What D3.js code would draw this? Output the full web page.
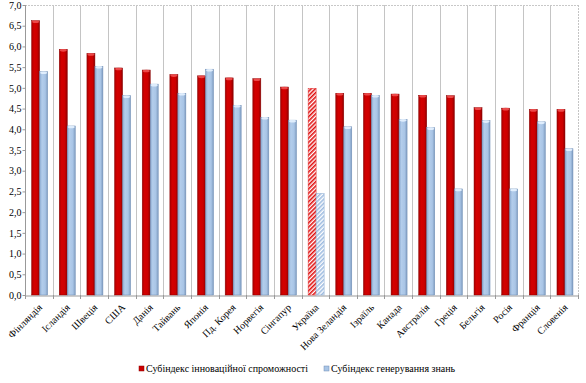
<!DOCTYPE html>
<html><head><meta charset="utf-8">
<script src="https://cdn.jsdelivr.net/npm/d3@7"></script>
<style>body{margin:0;background:#fff}svg{display:block}svg text{font-family:"Liberation Serif","Times New Roman",serif !important;fill:#000}</style>
</head><body>
<script>
const categories = ["Фінляндія","Ісландія","Швеція","США","Данія","Тайвань","Японія","Пд. Корея","Норвегія","Сінгапур","Україна","Нова Зеландія","Ізраїль","Канада","Австралія","Греція","Бельгія","Росія","Франція","Словенія"];
const innovationCapacity = [6.62,5.93,5.83,5.48,5.43,5.32,5.29,5.24,5.22,5.02,4.99,4.87,4.87,4.85,4.82,4.81,4.52,4.51,4.48,4.48];
const knowledgeGeneration = [5.39,4.08,5.52,4.81,5.09,4.87,5.45,4.58,4.29,4.22,2.45,4.06,4.82,4.24,4.04,2.56,4.21,2.56,4.18,3.53];
const seriesNames = ["Субіндекс інноваційної спроможності","Субіндекс генерування знань"];
const yTicks = [0,0.5,1,1.5,2,2.5,3,3.5,4,4.5,5,5.5,6,6.5,7];
const highlight = "Україна";

const W=586,H=383;
const FONT="'Liberation Serif','Times New Roman',serif";
const svg=d3.select("body").append("svg").attr("width",W).attr("height",H);
const defs=svg.append("defs");
function hgrad(id,stops){const g=defs.append("linearGradient").attr("id",id).attr("x1","0").attr("x2","1").attr("y1","0").attr("y2","0");stops.forEach(s=>g.append("stop").attr("offset",s[0]).attr("stop-color",s[1]));}
hgrad("gRed",[[0,"#a80000"],[0.3,"#d40000"],[0.7,"#cc0000"],[1,"#8e0000"]]);
hgrad("gBlue",[[0,"#8aa9cf"],[0.3,"#b3cdeb"],[0.7,"#a9c5e6"],[1,"#7f9cc0"]]);
const pr=defs.append("pattern").attr("id","pRed").attr("patternUnits","userSpaceOnUse").attr("width",3).attr("height",3).attr("patternTransform","rotate(45)");
pr.append("rect").attr("width",3).attr("height",3).attr("fill","#fff");
pr.append("rect").attr("width",1.6).attr("height",3).attr("fill","#e01010");
const pb=defs.append("pattern").attr("id","pBlue").attr("patternUnits","userSpaceOnUse").attr("width",3).attr("height",3).attr("patternTransform","rotate(45)");
pb.append("rect").attr("width",3).attr("height",3).attr("fill","#fff");
pb.append("rect").attr("width",1.6).attr("height",3).attr("fill","#9dbbe0");

const x0=25,x1=578,yTop=5,yBot=295;
const x=d3.scaleBand().domain(categories).range([x0,x1]).paddingInner(0).paddingOuter(0);
const y=d3.scaleLinear().domain([0,7]).range([yBot,yTop]);

const bounds=categories.map(c=>x(c)).concat([x1]);
svg.append("g").selectAll("line").data(bounds.slice(1)).join("line")
 .attr("x1",d=>Math.round(d)+0.5).attr("x2",d=>Math.round(d)+0.5).attr("y1",yTop).attr("y2",yBot)
 .attr("stroke","#c4c4c4").attr("stroke-width",1).attr("stroke-dasharray",(d,i)=>i===bounds.length-2?"2,1":null);
svg.append("line").attr("x1",x0).attr("x2",x1).attr("y1",yTop+0.5).attr("y2",yTop+0.5).attr("stroke","#c8c8c8").attr("stroke-dasharray","2,1");

const yAxis=d3.axisLeft(y).tickValues(yTicks).tickSize(3).tickFormat(d=>d3.format(".1f")(d).replace(".",","));
const ga=svg.append("g").attr("transform",`translate(${x0+0.5},0)`).call(yAxis).attr("font-family",FONT);
ga.select(".domain").attr("stroke","#999").attr("d",`M0,${yTop}V${yBot}`);
ga.selectAll(".tick line").attr("stroke","#999");
ga.selectAll(".tick text").style("font-family",FONT).attr("font-size",10).attr("x",-4).attr("fill","#000");

const xAxis=d3.axisBottom(x).tickSize(0).tickFormat("");
const gx=svg.append("g").attr("transform",`translate(0,${yBot+0.5})`).call(xAxis);
gx.select(".domain").attr("stroke","#999");
svg.append("g").selectAll("line").data(bounds).join("line")
 .attr("x1",d=>Math.round(d)+0.5).attr("x2",d=>Math.round(d)+0.5).attr("y1",yBot).attr("y2",yBot+4).attr("stroke","#999");

const bw=8, bw2=x.bandwidth();
const series=[innovationCapacity,knowledgeGeneration];
const fills=["url(#gRed)","url(#gBlue)"], hfills=["url(#pRed)","url(#pBlue)"];
const strokes=["#8a0000","#6f8db5"], tops=["#f05050","#e6f2ff"];
series.forEach((vals,si)=>{
  const g=svg.append("g");
  const data=categories.map((c,i)=>({c,v:vals[i]}));
  const bx=d=>x(d.c)+(bw2-2*bw)/2+0.8+si*bw;
  g.selectAll("rect").data(data).join("rect")
   .attr("x",bx).attr("width",bw).attr("y",d=>y(d.v)).attr("height",d=>yBot-y(d.v))
   .attr("fill",d=>d.c===highlight?hfills[si]:fills[si])
   .attr("stroke",d=>d.c===highlight?(si?"#8aaad0":"#e03030"):strokes[si]).attr("stroke-width",0.5);
  g.selectAll("ellipse").data(data).join("ellipse")
   .attr("cx",d=>bx(d)+bw/2).attr("cy",d=>y(d.v)+1).attr("rx",bw/2-0.5).attr("ry",1.3)
   .attr("fill",tops[si]).attr("opacity",d=>d.c===highlight?0.0:0.9);
});

svg.append("g").selectAll("text").data(categories).join("text")
 .attr("transform",d=>`translate(${x(d)+bw2/2+4},${yBot+13}) rotate(-45)`)
 .attr("text-anchor","end").attr("font-size",10).style("font-family",FONT).text(d=>d);

const lg=svg.append("g").attr("transform","translate(0,370)");
const lx=[139,324];
seriesNames.forEach((n,i)=>{
  lg.append("rect").attr("x",lx[i]).attr("y",-4).attr("width",5).attr("height",5).attr("fill",i?"#a9c5e6":"#cc0000").attr("stroke",strokes[i]).attr("stroke-width",0.5);
  lg.append("text").attr("x",lx[i]+7).attr("y",1.5).attr("font-size",10).style("font-family",FONT).text(n);
});
</script>
</body></html>
